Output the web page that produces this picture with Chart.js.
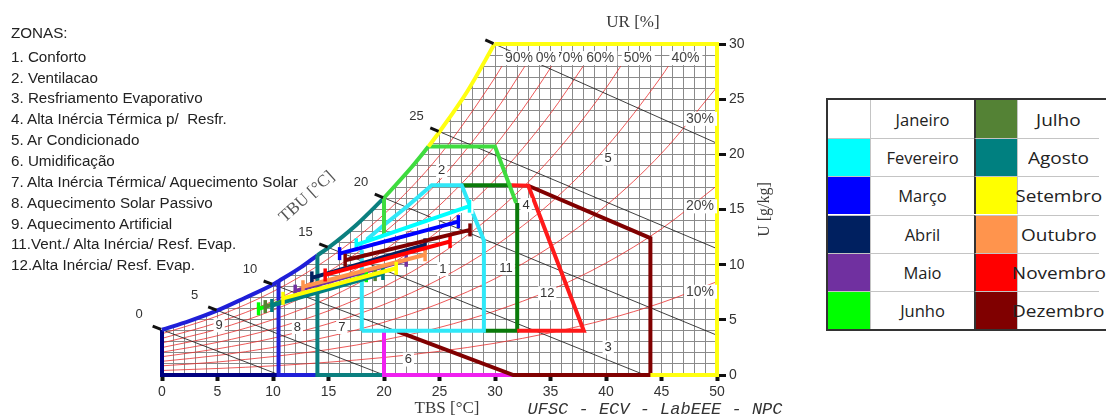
<!DOCTYPE html>
<html lang="pt">
<head>
<meta charset="utf-8">
<title>Carta bioclimática</title>
<script src="https://cdn.jsdelivr.net/npm/chart.js@4.4.1/dist/chart.umd.min.js"></script>
<style>
  html, body { margin:0; padding:0; background:#fff; }
  body { width:1106px; height:420px; overflow:hidden; position:relative; }
  #carta { position:absolute; left:0; top:0; }
  #zonas { position:absolute; left:0; top:0; font:15.2px "Liberation Sans", Arial, sans-serif; color:#222; white-space:pre; }
  #zonas div { position:absolute; left:11px; height:18px; line-height:18px; }
  #legenda { position:absolute; left:826px; top:98px; width:300px; height:233px; border:2px solid #333; box-sizing:border-box; background:#fff; }
  .cel { position:absolute; box-sizing:border-box; display:flex; align-items:center; justify-content:center; font:16.5px "Open Sans", sans-serif; color:#222; white-space:nowrap; }
  .cel span { display:inline-block; }
</style>
</head>
<body>
<canvas id="carta" width="1106" height="420"></canvas>
<div id="zonas"></div>
<div id="legenda"></div>
<script>
// ---- saturation curve (TBS °C, U g/kg) ----
const satT = [0, 2.5, 5, 7.5, 10, 10.5, 12.5, 14, 15, 17.5, 20, 22.5, 24, 25, 27.5, 29.95];
const satW = [4.1, 4.9, 5.85, 7.0, 8.2, 8.5, 9.75, 10.85, 11.55, 13.6, 16.05, 18.85, 20.7, 22.05, 25.7, 30];

// ---- relative humidity curves ----
const rhT = [0, 5, 10, 15, 20, 25, 30, 35, 40, 45, 50];
const rhLevels = [10, 20, 30, 40, 50, 60, 70, 80, 90];
const rh10 = [0.41, 0.59, 0.83, 1.16, 1.59, 2.15, 2.88, 3.83, 5.03, 6.55, 8.46];
const rh20 = [0.83, 1.18, 1.67, 2.31, 3.18, 4.31, 5.80, 7.70, 10.15, 13.25, 17.16];
const rh30 = [1.24, 1.77, 2.50, 3.48, 4.78, 6.49, 8.73, 11.63, 15.35, 20.09, 26.1];
const rh40 = [1.66, 2.37, 3.34, 4.65, 6.39, 8.69, 11.70, 15.60, 20.63, 27.07];
const rh50 = [2.07, 2.96, 4.18, 5.82, 8.01, 10.90, 14.69, 19.62, 26.0];
const rh60 = [2.49, 3.56, 5.02, 6.99, 9.64, 13.13, 17.71, 23.70];
const rh70 = [2.91, 4.15, 5.87, 8.18, 11.27, 15.37, 20.77, 27.83];
const rh80 = [3.32, 4.75, 6.71, 9.36, 12.91, 17.63, 23.85];
const rh90 = [3.74, 5.35, 7.56, 10.55, 14.57, 19.90, 26.96];
// temperature where each curve reaches the 28 g/kg cut (null = runs to 50 °C)
const rhEndT = [null, null, null, 45.62, 41.33, 37.95, 35.1, 32.7, 30.63];
const rhEndW = 28;

// ---- wet bulb lines (TBU) ----
const tbuLabels = ['0', '5', '10', '15', '20', '25', ''];
const tbuStartT = [0, 5, 10, 15, 20, 25, 29.95];
const tbuStartW = [4.1, 5.85, 8.2, 11.55, 16.05, 22.05, 30];
const tbuEndT = [10.6, 20.0, 31.65, 43.5, 50, 50, 50];
const tbuEndW = [0, 0, 0, 0, 3.6, 11.45, 21.0];

// ---- zone boundaries [TBS, U] ----
const zona9 = [[10.5, 0], [0, 0], [0, 4.1]];
const zona8 = [[10.5, 8.5], [10.5, 0], [14, 0]];
const zona7 = [[14, 10.85], [14, 0], [20, 0]];
const zona6 = [[20, 4], [20, 0], [31.65, 0]];
const zona1 = [[18, 4], [18, 11.9], [20, 13.6], [22, 15.2], [24.3, 17.2], [27, 17.2], [29, 12.2], [29, 4], [18, 4]];
const zona2a = [[20, 12.6], [20, 16.05]];
const zona2b = [[24, 20.7], [30, 20.7], [31.9, 15.6]];
const zona11a = [[27, 17.2], [31.5, 17.2]];
const zona11b = [[32, 15.6], [32, 4], [29, 4]];
const zona12 = [[31.5, 17.2], [33, 17.15], [38, 4], [32, 4]];
const zona3 = [[21.2, 3.95], [31.65, 0], [44, 0], [44, 12.4], [33, 17.15]];
const zona5 = [[29.95, 30], [50, 30], [50, 0], [44, 0]];

// ---- monthly ranges ----
const monthNames = ['Janeiro', 'Fevereiro', 'Março', 'Abril', 'Maio', 'Junho', 'Julho', 'Agosto', 'Setembro', 'Outubro', 'Novembro', 'Dezembro'];
const monthColors = ['#ffffff', '#00ffff', '#0000ff', '#002060', '#7030a0', '#00ff00', '#548235', '#008080', '#ffff00', '#ff944d', '#ff0000', '#800000'];
const monthTmin = [18.2, 17.5, 16.0, 13.5, 12.0, 8.7, 9.3, 9.9, 10.9, 12.7, 14.7, 16.5];
const monthWmin = [11.9, 11.8, 11.0, 8.8, 7.6, 6.0, 6.2, 6.3, 6.95, 8.0, 9.07, 10.4];
const monthTmax = [27.9, 27.7, 26.7, 23.7, 22.0, 18.4, 19.2, 19.9, 21.1, 23.7, 25.95, 27.75];
const monthWmax = [15.2, 15.3, 13.9, 11.8, 10.4, 9.0, 9.1, 9.2, 9.67, 10.9, 12.1, 13.15];

// ---- zone list ----
const zoneList = ['ZONAS:', '1. Conforto', '2. Ventilacao', '3. Resfriamento Evaporativo', '4. Alta Inércia Térmica p/  Resfr.',
  '5. Ar Condicionado', '6. Umidificação', '7. Alta Inércia Térmica/ Aquecimento Solar', '8. Aquecimento Solar Passivo',
  '9. Aquecimento Artificial', '11.Vent./ Alta Inércia/ Resf. Evap.', '12.Alta Inércia/ Resf. Evap.'];
const zoneTags = ['1', '2', '3', '4', '5', '6', '7', '8', '9', '11', '12'];

// where the zone numbers sit inside the chart (TBS, U)
const tagSpots = [[25.3, 9.6], [25.2, 18.5], [40.2, 2.5], [32.8, 15.4], [40.2, 19.6], [22.2, 1.4], [16.2, 4.35], [12.2, 4.35], [5.15, 4.5], [31.0, 9.7], [34.7, 7.4]];

// ---------- build ----------
const pts = arr => arr.map(([t, w]) => ({ x: t, y: w }));
const sat = satT.map((t, i) => ({ x: t, y: satW[i] }));
const satPart = (a, b) => sat.filter(p => p.x >= a - 1e-9 && p.x <= b + 1e-9);

function line(data, color, width, order, curved) {
  return {
    data, borderColor: color, backgroundColor: color, borderWidth: width,
    pointRadius: 0, pointHoverRadius: 0, showLine: true, fill: false,
    tension: 0, cubicInterpolationMode: curved ? 'monotone' : 'default',
    order, clip: false, borderCapStyle: 'butt', borderJoinStyle: 'miter'
  };
}

const datasets = [];
// white cover above the saturation curve (hides the grid there)
datasets.push({ data: sat, showLine: true, fill: 'end', backgroundColor: '#ffffff', borderColor: 'rgba(0,0,0,0)', borderWidth: 0,
  pointRadius: 0, cubicInterpolationMode: 'monotone', order: 100 });

const rhSeries = [rh10, rh20, rh30, rh40, rh50, rh60, rh70, rh80, rh90];
const rhCurves = rhSeries.map((w, k) => {
  const d = w.map((v, i) => ({ x: rhT[i], y: v }));
  if (rhEndT[k] !== null) d.push({ x: rhEndT[k], y: rhEndW });
  return d;
});
rhCurves.forEach(d => datasets.push(line(d, 'rgba(232,48,48,0.8)', 1, 90, true)));

tbuStartT.forEach((t, i) => datasets.push(line([{ x: t, y: tbuStartW[i] }, { x: tbuEndT[i], y: tbuEndW[i] }], 'rgba(30,30,30,0.85)', 1, 85, false)));

const ZW = 4;
datasets.push(line(pts(zona9), '#000080', ZW, 50));
datasets.push(line(satPart(0, 14), '#1f1fd8', ZW, 49, true));
datasets.push(line(pts(zona8), '#1f1fd8', ZW, 49));
datasets.push(line(satPart(14, 20), '#0b7f7f', ZW, 48, true));
datasets.push(line(pts(zona7), '#0b7f7f', ZW, 48));
datasets.push(line(pts(zona6), '#f020f0', ZW, 47));
datasets.push(line(pts(zona3), '#800000', ZW, 46));
datasets.push(line(pts(zona11b), '#0a7a0a', ZW, 45));
datasets.push(line(pts(zona12), '#ff1a1a', ZW, 44));
datasets.push(line(pts(zona11a), '#0a7a0a', ZW, 44));
datasets.push(line(pts(zona1), '#30e8f8', ZW, 43));
datasets.push(line(pts(zona2a), '#3fdc3f', ZW, 42));
datasets.push(line(satPart(20, 24), '#3fdc3f', ZW, 42, true));
datasets.push(line(pts(zona2b), '#3fdc3f', ZW, 42));
datasets.push(line(satPart(24, 29.95), '#ffff10', ZW, 41, true));
datasets.push(line(pts(zona5), '#ffff10', ZW, 41));

monthNames.forEach((m, i) => {
  const c = monthColors[i];
  datasets.push({
    label: m,
    data: [{ x: monthTmin[i], y: monthWmin[i] }, { x: monthTmax[i], y: monthWmax[i] }],
    showLine: true, borderColor: c, backgroundColor: c, borderWidth: 4,
    pointStyle: 'line', rotation: 90, pointRadius: 6.5, pointBorderWidth: 3.5, pointBorderColor: c,
    pointHoverRadius: 6.5, order: m === 'Setembro' ? 5 : (m === 'Janeiro' ? 30 : 20 - i), clip: false
  });
});

// ---------- texts drawn on the chart ----------
const textos = {
  id: 'textos',
  afterDatasetsDraw(chart) {
    const { ctx, scales: { x, y } } = chart;
    const px = t => x.getPixelForValue(t);
    const py = w => y.getPixelForValue(w);
    ctx.save();
    ctx.textAlign = 'center';
    ctx.textBaseline = 'middle';

    // wet bulb ticks + values
    ctx.font = '13px "Liberation Sans", Arial, sans-serif';
    tbuStartT.forEach((t, i) => {
      const x0 = px(t), y0 = py(tbuStartW[i]), x1 = px(tbuEndT[i]), y1 = py(tbuEndW[i]);
      const L = Math.hypot(x1 - x0, y1 - y0), ux = (x0 - x1) / L, uy = (y0 - y1) / L;
      ctx.strokeStyle = '#111'; ctx.lineWidth = 3;
      ctx.beginPath(); ctx.moveTo(x0 + ux * 1, y0 + uy * 1); ctx.lineTo(x0 + ux * 10, y0 + uy * 10); ctx.stroke();
      if (tbuLabels[i]) { ctx.fillStyle = '#333'; ctx.fillText(tbuLabels[i], x0 - 23, y0 - 15); }
    });

    // zone numbers
    ctx.font = '13px "Liberation Sans", Arial, sans-serif';
    zoneTags.forEach((s, i) => {
      const cx = px(tagSpots[i][0]), cy = py(tagSpots[i][1]);
      const w = ctx.measureText(s).width + 4;
      ctx.fillStyle = '#fff'; ctx.fillRect(cx - w / 2, cy - 7, w, 14);
      ctx.fillStyle = '#333'; ctx.fillText(s, cx, cy);
    });

    // relative humidity values (drawn from 90 % downward so each box covers the next one)
    ctx.font = '14px "Liberation Sans", Arial, sans-serif';
    ctx.textAlign = 'left';
    for (let k = 0; k < rhLevels.length; k++) {
      const s = rhLevels[k] + '%';
      const w = ctx.measureText(s).width;
      let lx, ly;
      if (rhEndT[k] !== null) {
        lx = px(rhEndT[k]) + 3; ly = py(rhEndW) - 8;
      } else {
        const d = rhCurves[k], a = d[d.length - 2], b = d[d.length - 1], f = (47.6 - a.x) / (b.x - a.x);
        lx = px(50) - 3 - w; ly = py(a.y + (b.y - a.y) * f);
      }
      ctx.fillStyle = '#fff'; ctx.fillRect(lx - 2, ly - 7, w + 5, 14);
      ctx.fillStyle = '#444'; ctx.fillText(s, lx, ly);
    }
    ctx.restore();
  },
  afterDraw(chart) {
    const { ctx, chartArea: a } = chart;
    ctx.save();
    ctx.fillStyle = '#3a3a3a';
    ctx.textBaseline = 'middle';
    ctx.textAlign = 'center';
    ctx.font = '17px "Liberation Serif", "Times New Roman", serif';
    ctx.fillText('UR [%]', 633, 23);
    ctx.fillText('TBS [°C]', 447, 409);
    ctx.save();
    ctx.translate(765, (a.top + a.bottom) / 2);
    ctx.rotate(-Math.PI / 2);
    ctx.font = '16px "Liberation Serif", "Times New Roman", serif';
    ctx.fillText('U [g/kg]', 0, 0);
    ctx.restore();
    ctx.save();
    ctx.translate(307, 197);
    ctx.rotate(-42 * Math.PI / 180);
    ctx.fillStyle = '#555';
    ctx.font = '17px "Liberation Serif", "Times New Roman", serif';
    ctx.fillText('TBU [°C]', 0, 0);
    ctx.restore();
    ctx.fillStyle = '#333';
    ctx.font = 'italic 17px "Liberation Mono", monospace';
    ctx.fillText('UFSC - ECV - LabEEE - NPC', 655, 409);
    ctx.restore();
  }
};

const tickColor = c => (c.tick && c.tick.value % 5 === 0) ? '#111' : 'rgba(0,0,0,0)';
const tickLabel = v => (v % 5 === 0 ? String(v) : '');

new Chart(document.getElementById('carta'), {
  type: 'scatter',
  data: { datasets },
  options: {
    responsive: false, animation: false, events: [],
    layout: { padding: { left: 162, top: 44, right: 1106 - 717 - 40, bottom: 0 } },
    plugins: { legend: { display: false }, tooltip: { enabled: false } },
    scales: {
      x: {
        type: 'linear', min: 0, max: 50,
        border: { display: false },
        grid: { color: '#8a8a8a', lineWidth: 1, tickColor, tickWidth: 4, tickLength: 6 },
        ticks: { stepSize: 1, autoSkip: false, maxRotation: 0, minRotation: 0, padding: 3, callback: tickLabel,
          color: '#333', font: { size: 14, family: '"Liberation Sans", Arial, sans-serif' } },
        afterFit: s => { s.height = 45; }
      },
      y: {
        type: 'linear', position: 'right', min: 0, max: 30,
        border: { display: false },
        grid: { color: '#8a8a8a', lineWidth: 1, tickColor, tickWidth: 3, tickLength: 9 },
        ticks: { stepSize: 1, autoSkip: false, padding: 3, callback: tickLabel,
          color: '#333', font: { size: 14, family: '"Liberation Sans", Arial, sans-serif' } },
        afterFit: s => { s.width = 40; }
      }
    }
  },
  plugins: [textos]
});

// ---------- zone list ----------
const zonas = document.getElementById('zonas');
zoneList.forEach((s, i) => {
  const d = document.createElement('div');
  const cy = i === 0 ? 32.7 : 56.7 + 20.85 * (i - 1);
  d.style.top = (cy - 9) + 'px';
  d.textContent = s;
  zonas.appendChild(d);
});

// ---------- month legend table ----------
const leg = document.getElementById('legenda');
const rowH = 229 / 6;
const cols = [[0, 42, 0], [42, 104, 1], [146, 43, 2], [189, 82, 1]];
monthNames.forEach((m, i) => {
  const block = i < 6 ? 0 : 2, row = i % 6;
  [0, 1].forEach(j => {
    const [l, w, kind] = cols[block + j];
    const c = document.createElement('div');
    c.className = 'cel';
    c.style.left = l + 'px'; c.style.width = w + 'px';
    c.style.top = (row * rowH) + 'px'; c.style.height = rowH + 'px';
    if (row > 0) c.style.borderTop = '1px solid #c4c4c4';
    if (kind === 2) c.style.borderLeft = '2px solid #333';
    else if (kind === 1) c.style.borderLeft = '1px solid #c4c4c4';
    if (j === 0) c.style.background = monthColors[i];
    else {
      const sp = document.createElement('span');
      sp.textContent = m;
      if (block === 2) sp.style.transform = 'scaleX(1.15)';
      c.appendChild(sp);
    }
    leg.appendChild(c);
  });
});
</script>
</body>
</html>
